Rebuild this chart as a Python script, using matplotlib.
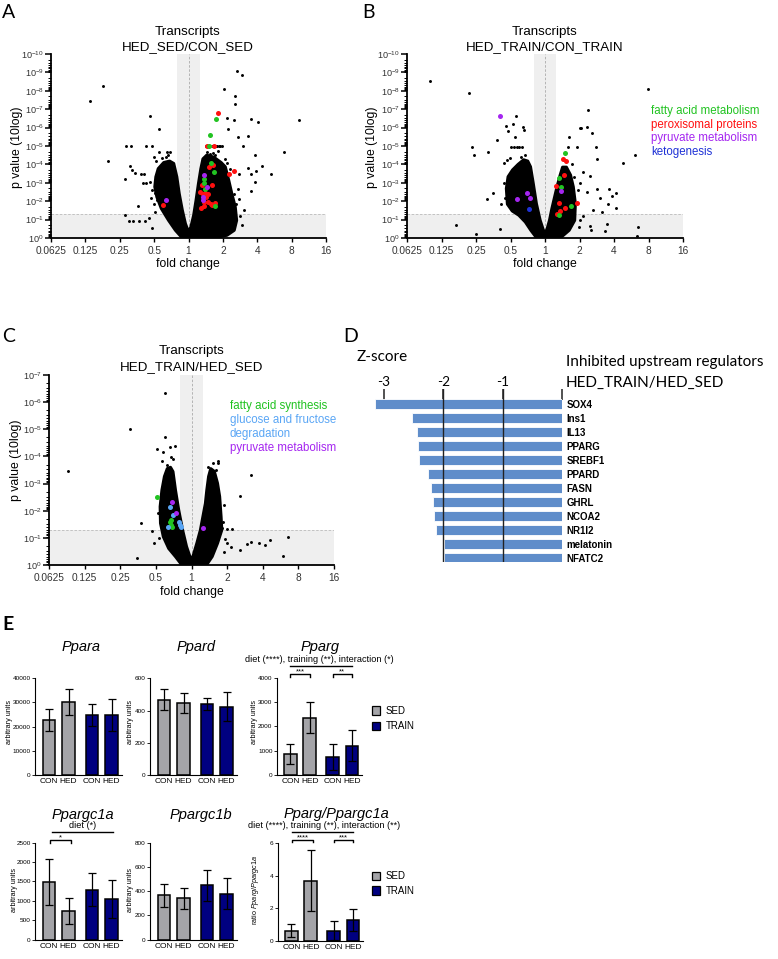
import numpy as np
import matplotlib
matplotlib.use('Agg')
import matplotlib.pyplot as plt
from matplotlib.ticker import LogLocator, NullLocator, FixedLocator, NullFormatter
from matplotlib.patches import Rectangle

plt.rcParams['font.family'] = ['Liberation Sans', 'DejaVu Sans']
plt.rcParams['mathtext.fontset'] = 'custom'
plt.rcParams['mathtext.rm'] = 'Liberation Sans'
plt.rcParams['mathtext.it'] = 'Liberation Sans:italic'

W, H = 778, 959
fig = plt.figure(figsize=(W / 100, H / 100), dpi=100)

# ---------------- DATA ----------------
fold_ticks = [0.0625, 0.125, 0.25, 0.5, 1, 2, 4, 8, 16]
fold_tick_labels = ['0.0625', '0.125', '0.25', '0.5', '1', '2', '4', '8', '16']

# Panel A  (log2 fold change, -log10 p); dense cloud outline + individual points
a_env_l2 = [-0.18, -0.38, -0.58, -0.79, -0.92, -0.98, -0.95, -0.88, -0.72, -0.55, -0.43, -0.34, -0.27, -0.18, -0.09, 0.0,
            0.07, 0.15, 0.22, 0.29, 0.36, 0.42, 0.53, 0.73, 0.95, 1.07, 1.17, 1.26, 1.36, 1.40, 1.33, 1.12, 0.73]
a_env_m = [0, 0.42, 0.96, 1.60, 2.23, 2.78, 3.32, 3.77, 4.10, 4.18, 4.05, 3.32, 2.41, 1.51, 0.78, 0.33,
           0.60, 1.23, 2.05, 2.96, 3.77, 4.30, 4.50, 4.40, 4.10, 3.87, 3.14, 2.41, 1.69, 0.96, 0.42, 0.15, 0]
a_l2 = [-2.86, -2.49, -2.35, -1.84, -1.82, -1.68, -1.25, -1.06, -1.13, -0.86, -1.70, -1.63, -1.56, -1.39, -1.29, -1.33,
        -1.23, -1.12, -1.00, -0.94, -0.86, -0.63, -0.53, -1.84, -1.72, -1.62, -1.45, -1.26, -1.47, -1.07, -1.01, -0.97,
        -0.92, -0.73, -0.82, -1.05, -1.10, -0.98, -1.15, -0.78, -0.66, -0.60,
        1.40, 1.55, 1.04, 1.34, 1.35, 1.13, 1.31, 1.82, 2.01, 3.20, 1.45, 1.72, 1.16, 1.59, 1.92, 2.78, 2.13, 1.72,
        1.82, 1.97, 2.40, 1.92, 1.81, 1.39, 1.43, 0.92, 0.81, 1.12, 1.21, 1.47, 1.31,
        0.51, 0.59, 0.67, 0.75, 0.83, 0.90, 0.97, 0.55, 0.70, 0.85, 0.62, 0.78, 1.05, 1.50, 1.55, 1.48, 1.60]
a_m = [7.46, 8.28, 4.21, 3.19, 5.01, 5.01, 5.01, 5.01, 6.62, 5.95, 3.92, 3.72, 3.54, 3.50, 3.50, 3.01,
       3.01, 3.05, 4.41, 4.16, 4.68, 4.68, 4.68, 1.27, 0.93, 0.93, 0.93, 0.93, 1.72, 0.54, 1.87, 2.47,
       2.05, 3.77, 3.14, 2.60, 2.20, 1.40, 1.10, 4.35, 4.40, 4.50,
       9.07, 8.84, 8.11, 7.71, 7.28, 6.53, 6.41, 6.46, 6.30, 6.39, 5.50, 5.57, 5.95, 5.01, 4.50, 4.68, 3.92, 3.83,
       3.50, 3.63, 3.48, 3.05, 2.54, 1.87, 2.69, 5.01, 5.01, 4.05, 3.77, 3.50, 2.41,
       5.01, 5.01, 5.01, 5.01, 5.01, 5.01, 5.01, 4.70, 4.60, 4.75, 4.55, 4.50, 4.30, 1.20, 0.70, 2.10, 1.50]
a_red_l2 = [0.87, 0.53, 0.73, 0.70, 0.61, 1.19, 1.31, 0.39, 0.42, 0.34, 0.48, 0.51, 0.58, 0.68, 0.46, 0.44, 0.36,
            0.58, 0.65, 0.78, -0.73, 0.69]
a_red_m = [6.82, 5.01, 5.01, 3.99, 3.87, 3.50, 3.63, 2.87, 2.41, 2.50, 2.45, 2.23, 2.41, 2.87, 1.96, 1.72, 1.62,
           1.96, 1.83, 1.91, 1.81, 1.81]
a_green_l2 = [0.80, 0.63, 0.61, 0.65, 0.73, 0.46, 0.44, 0.48, 0.78]
a_green_m = [6.46, 5.59, 5.01, 4.08, 3.59, 3.19, 2.99, 2.69, 1.74]
a_purple_l2 = [0.46, 0.53, 0.42, 0.42, -0.65]
a_purple_m = [3.41, 2.78, 2.23, 2.09, 2.09]

# Panel B
b_env_l2 = [-0.24, -0.41, -0.57, -0.76, -0.95, -1.09, -1.12, -1.07, -0.94, -0.78, -0.62, -0.50, -0.42, -0.34, -0.25,
            -0.14, -0.03, 0.05, 0.13, 0.20, 0.28, 0.36, 0.44, 0.51, 0.62, 0.74, 0.82, 0.88, 0.86, 0.70, 0.44]
b_env_m = [0, 0.42, 0.87, 1.24, 1.47, 1.84, 2.69, 3.33, 3.70, 4.00, 4.25, 4.18, 3.87, 2.96, 1.87,
           0.96, 0.33, 0.42, 0.96, 1.60, 2.24, 2.87, 3.42, 3.85, 3.85, 3.42, 2.78, 1.87, 0.96, 0.42, 0]
b_l2 = [-3.34, -2.20, -2.13, -2.06, -1.65, -1.40, -1.52, -1.69, -2.57, -2.00, -1.31, -1.28, -1.13, -1.07, -0.94,
        -0.87, -0.84, -0.99, -0.90, -0.82, -0.75, -0.67, -0.63, -0.60, -1.18, -1.09, -1.01, -1.02, -1.15, -1.20,
        -0.58, -0.70,
        1.24, 1.23, 1.00, 1.05, 1.36, 0.71, 0.66, 0.92, 1.48, 1.52, 1.29, 1.11, 0.79, 0.83, 1.22, 1.38, 1.52, 1.60,
        1.64, 1.86, 1.84, 1.94, 2.06, 2.07, 1.81, 1.75, 1.31, 1.33, 1.00, 2.27, 2.60, 2.71, 2.66, 2.98,
        0.95, 1.02, 1.10, 0.60, 0.98]
b_m = [8.55, 7.89, 4.96, 4.49, 4.65, 5.33, 2.47, 2.11, 0.69, 0.24, 0.51, 1.84, 6.11, 5.84, 6.18,
       5.47, 6.65, 4.96, 4.96, 4.96, 4.96, 4.96, 6.02, 5.87, 4.05, 4.24, 4.33, 1.69, 2.20, 3.00,
       4.50, 4.40,
       6.96, 6.05, 6.00, 5.96, 5.69, 5.47, 4.96, 4.96, 4.96, 4.29, 3.38, 3.60, 4.00, 3.33, 2.51, 1.53, 2.64, 2.18,
       1.40, 2.65, 1.87, 2.27, 2.42, 1.65, 0.78, 0.36, 0.67, 0.42, 0.96, 4.05, 4.49, 0.60, 0.11, 8.11,
       2.60, 3.00, 1.20, 4.20, 0.60]
b_purple_l2 = [-1.29, -0.52, -0.43, -0.81, 0.45]
b_purple_m = [6.65, 2.47, 2.20, 2.13, 2.56]
b_blue_l2 = [-0.46]
b_blue_m = [1.55]
b_green_l2 = [0.57, 0.42, 0.47, 0.76, 0.40]
b_green_m = [4.64, 3.27, 2.75, 1.73, 1.27]
b_red_l2 = [0.53, 0.61, 0.56, 0.33, 0.41, 0.94, 0.57, 0.43, 0.36]
b_red_m = [4.27, 4.16, 3.44, 2.85, 1.91, 1.91, 1.65, 1.47, 1.31]

# Panel C
c_env_l2 = [-0.27, -0.45, -0.64, -0.79, -0.87, -0.88, -0.83, -0.76, -0.68, -0.59, -0.52, -0.45, -0.36, -0.25, -0.14,
            -0.03, 0.04, 0.15, 0.25, 0.32, 0.39, 0.43, 0.48, 0.54, 0.64, 0.73, 0.79, 0.83, 0.85, 0.73, 0.58, 0.42]
c_env_m = [0, 0.31, 0.61, 1.04, 1.54, 2.15, 2.76, 3.26, 3.55, 3.60, 3.44, 2.76, 2.03, 1.29, 0.68,
           0.25, 0.31, 0.80, 1.29, 1.78, 2.27, 2.76, 3.26, 3.55, 3.45, 3.01, 2.52, 1.78, 1.29, 0.80, 0.31, 0]
c_l2 = [-3.47, -1.74, -0.75, -0.73, -0.96, -0.80, -0.61, -0.45, -0.57, -0.52, -0.83, -1.43, -1.52, -1.11, -0.71,
        -0.85, -0.87, -0.85, -0.61, -1.05, -0.92, -0.95, -0.70,
        0.47, 0.74, 0.74, 1.66, 1.37, 0.87, 1.01, 1.15, 0.95, 1.00, 1.11, 0.91, 1.37, 1.55, 1.67, 1.90, 2.07, 2.21,
        2.71, 2.57, 0.70, 0.88, 0.90, 0.60]
c_m = [3.46, 5.00, 6.33, 4.73, 4.29, 4.15, 4.34, 4.40, 3.99, 3.89, 3.85, 1.54, 0.25, 1.27, 2.76,
       2.27, 2.03, 1.78, 1.54, 0.80, 1.00, 1.90, 3.70,
       3.62, 3.85, 3.75, 3.32, 2.56, 1.35, 1.31, 1.31, 0.96, 0.80, 0.68, 0.49, 0.54, 0.77, 0.86, 0.82, 0.72, 0.93,
       1.02, 0.34, 3.50, 1.60, 2.20, 3.75]
c_green_l2 = [-0.96, -0.61, -0.58, -0.54, -0.57]
c_green_m = [2.49, 1.57, 1.47, 1.39, 1.66]
c_blue_l2 = [-0.59, -0.51, -0.66, -0.36, -0.33, -0.30]
c_blue_m = [2.15, 1.83, 1.41, 1.57, 1.47, 1.41]
c_purple_l2 = [-0.55, -0.43, 0.32]
c_purple_m = [2.31, 1.90, 1.35]

# Panel D
regulators = ['SOX4', 'Ins1', 'IL13', 'PPARG', 'SREBF1', 'PPARD', 'FASN', 'GHRL', 'NCOA2', 'NR1I2',
              'melatonin', 'NFATC2']
zscores = [-3.15, -2.53, -2.45, -2.43, -2.41, -2.26, -2.20, -2.18, -2.15, -2.13, -1.98, -1.98]

# Panel E
groups = ['CON', 'HED', 'CON', 'HED']
ppara_mean = [22700, 30100, 24800, 24800]
ppara_lo = [18400, 24800, 20400, 18400]
ppara_hi = [27100, 35500, 29300, 31600]
ppard_mean = [468, 444, 438, 425]
ppard_lo = [403, 386, 403, 335]
ppard_hi = [535, 506, 478, 515]
pparg_mean = [850, 2330, 730, 1190]
pparg_lo = [440, 1730, 205, 590]
pparg_hi = [1290, 2990, 1270, 1840]
pgc1a_mean = [1480, 730, 1280, 1040]
pgc1a_lo = [880, 410, 860, 560]
pgc1a_hi = [2070, 1070, 1710, 1530]
pgc1b_mean = [365, 340, 448, 380]
pgc1b_lo = [270, 255, 322, 252]
pgc1b_hi = [462, 428, 572, 512]
ratio_mean = [0.62, 3.70, 0.60, 1.30]
ratio_lo = [0.25, 1.82, 0.02, 0.62]
ratio_hi = [1.05, 5.58, 1.20, 1.97]

# ---------------- helpers ----------------
def fx(x):
    return x / W


def fy(y):
    return 1 - y / H


def add_ax(l, t, r, b):
    return fig.add_axes([l / W, 1 - b / H, (r - l) / W, (b - t) / H])


def ftext(x, y, s, **kw):
    kw.setdefault('va', 'center')
    kw.setdefault('ha', 'center')
    return fig.text(fx(x), fy(y), s, **kw)


GREEN = '#22c322'
RED = '#ff1010'
PURPLE = '#a526f0'
BLUE = '#1f32d6'
LBLUE = '#5aa6f5'
TICKC = '#333333'


def volcano(ax, ndec, env_l2, env_m, l2, m, colored):
    ax.set_xscale('log', base=2)
    ax.set_yscale('log')
    ax.set_xlim(0.0625, 16)
    ax.set_ylim(1, 10.0 ** (-ndec))
    ax.axvspan(0.8, 1.25, color='#efefef', zorder=0, lw=0)
    ax.axhspan(0.05, 1, color='#efefef', zorder=0, lw=0)
    ax.axvline(1, ls=(0, (3, 2)), color='#aaaaaa', lw=0.6, zorder=1)
    ax.axhline(0.05, ls=(0, (3, 2)), color='#bbbbbb', lw=0.6, zorder=1)
    ax.fill(2.0 ** np.array(env_l2), 10.0 ** (-np.array(env_m)), color='black', lw=2.2,
            joinstyle='round', zorder=2)
    ax.scatter(2.0 ** np.array(l2), 10.0 ** (-np.array(m)), s=4.5, c='black', lw=0, zorder=3)
    for cl2, cm, col in colored:
        ax.scatter(2.0 ** np.array(cl2), 10.0 ** (-np.array(cm)), s=13, c=col, lw=0, zorder=4)
    ax.xaxis.set_major_locator(FixedLocator(fold_ticks))
    ax.xaxis.set_minor_locator(NullLocator())
    ax.set_xticklabels(fold_tick_labels)
    majors = [10.0 ** (-k) for k in range(ndec + 1)]
    ax.yaxis.set_major_locator(FixedLocator(majors))
    ax.set_yticklabels(['$10^{0}$'] + ['$10^{-%d}$' % k for k in range(1, ndec + 1)])
    ax.yaxis.set_minor_locator(LogLocator(base=10, subs=np.arange(2, 10) * 1.0, numticks=30))
    ax.yaxis.set_minor_formatter(NullFormatter())
    for s in ['top', 'right']:
        ax.spines[s].set_visible(False)
    for s in ['left', 'bottom']:
        ax.spines[s].set_linewidth(1.3)
    ax.tick_params(axis='x', which='major', length=3, width=1, labelsize=7.3, labelcolor=TICKC, pad=3)
    ax.tick_params(axis='y', which='major', length=4, width=1.1, labelsize=6.6, labelcolor=TICKC, pad=1)
    ax.tick_params(axis='y', which='minor', length=2.5, width=0.7)
    ax.set_facecolor('none')


# ---------------- Panel A ----------------
axA = add_ax(51, 54, 326, 238)
volcano(axA, 10, a_env_l2, a_env_m, a_l2, a_m,
        [(a_red_l2, a_red_m, RED), (a_green_l2, a_green_m, GREEN), (a_purple_l2, a_purple_m, PURPLE)])
ftext(188, 32, 'Transcripts', fontsize=9.6)
ftext(188, 47, 'HED_SED/CON_SED', fontsize=9.6)
ftext(188, 264, 'fold change', fontsize=8.8)
ftext(17, 147, 'p value (10log)', fontsize=8.8, rotation=90)

# ---------------- Panel B ----------------
axB = add_ax(407, 54, 683, 238)
volcano(axB, 10, b_env_l2, b_env_m, b_l2, b_m,
        [(b_red_l2, b_red_m, RED), (b_green_l2, b_green_m, GREEN), (b_purple_l2, b_purple_m, PURPLE),
         (b_blue_l2, b_blue_m, BLUE)])
ftext(545, 32, 'Transcripts', fontsize=9.6)
ftext(545, 47, 'HED_TRAIN/CON_TRAIN', fontsize=9.6)
ftext(545, 264, 'fold change', fontsize=8.8)
ftext(372, 147, 'p value (10log)', fontsize=8.8, rotation=90)
for i, (lab, col) in enumerate([('fatty acid metabolism', GREEN), ('peroxisomal proteins', RED),
                                ('pyruvate metabolism', PURPLE), ('ketogenesis', BLUE)]):
    ftext(651, 111 + 13.6 * i, lab, color=col, fontsize=8.3, ha='left')

# ---------------- Panel C ----------------
axC = add_ax(49, 375, 334, 565)
volcano(axC, 7, c_env_l2, c_env_m, c_l2, c_m,
        [(c_green_l2, c_green_m, GREEN), (c_blue_l2, c_blue_m, LBLUE), (c_purple_l2, c_purple_m, PURPLE)])
ftext(192, 351, 'Transcripts', fontsize=9.6)
ftext(192, 367, 'HED_TRAIN/HED_SED', fontsize=9.6)
ftext(192, 592, 'fold change', fontsize=8.8)
ftext(16, 460, 'p value (10log)', fontsize=8.8, rotation=90)
for lab, col, yy in [('fatty acid synthesis', '#1fc21f', 406), ('glucose and fructose', LBLUE, 419.5),
                     ('degradation', LBLUE, 434), ('pyruvate metabolism', PURPLE, 448)]:
    ftext(230, yy, lab, color=col, fontsize=8.3, ha='left')

# ---------------- Panel D ----------------
axD = add_ax(371.9, 389, 562.3, 562)
ypos = np.arange(len(regulators))
axD.barh(ypos, zscores, height=0.74, color='#5f8dca', edgecolor='white', lw=0.6, zorder=2)
axD.set_xlim(-3.2, 0)
axD.set_ylim(11.28, -1.05)
for v in [-2, -1]:
    axD.axvline(v, color='#222222', lw=1.0, zorder=3)
for s in axD.spines.values():
    s.set_visible(False)
axD.xaxis.tick_top()
axD.set_xticks([-3, -2, -1, 0])
axD.set_xticklabels(['-3', '-2', '-1', ''], fontsize=9.8, family='Lato')
axD.tick_params(axis='x', direction='in', length=8, width=1.1, color='#222222', pad=1)
axD.yaxis.tick_right()
axD.set_yticks(ypos)
axD.set_yticklabels(regulators, fontsize=7, fontweight='bold')
axD.tick_params(axis='y', length=0, pad=3)
axD.set_facecolor('none')
ftext(357, 357, 'Z-score', fontsize=11, family='Lato', ha='left')
ftext(565.5, 361.7, 'Inhibited upstream regulators', fontsize=11, family='Lato', ha='left')
ftext(565.5, 383.3, 'HED_TRAIN/HED_SED', fontsize=11, family='Lato', ha='left')

# ---------------- Panel E ----------------
GRAY = '#a4a4a8'
NAVY = '#000080'
bar_pos = [0, 1, 2.2, 3.2]
bar_cols = [GRAY, GRAY, NAVY, NAVY]


def barpanel(l, t, r, b, mean, lo, hi, ymax, step):
    ax = add_ax(l, t, r, b)
    mean = np.array(mean, float)
    lo = np.array(lo, float)
    hi = np.array(hi, float)
    ax.bar(bar_pos, mean, width=0.65, color=bar_cols, edgecolor='black', lw=1.1, zorder=2)
    ax.errorbar(bar_pos, mean, yerr=[mean - lo, hi - mean], fmt='none', ecolor='black',
                elinewidth=0.9, capsize=3.2, capthick=0.9, zorder=3)
    ax.set_xlim(-0.72, 3.72)
    ax.set_ylim(0, ymax)
    ax.set_yticks(np.arange(0, ymax + step / 2, step))
    ax.tick_params(axis='y', labelsize=4.6, length=2, width=0.6, pad=1)
    ax.set_xticks(bar_pos)
    ax.set_xticklabels(groups, fontsize=6.0)
    ax.tick_params(axis='x', length=0, pad=2.5)
    for s in ['top', 'right']:
        ax.spines[s].set_visible(False)
    for s in ['left', 'bottom']:
        ax.spines[s].set_linewidth(0.8)
    ax.set_facecolor('none')
    return ax


def bracket(ax, x0, x1, yfrac, stars=None, drop=0.025):
    tr = ax.get_xaxis_transform()
    if stars is None:
        ax.plot([x0, x1], [yfrac, yfrac], color='black', lw=1.0, transform=tr, clip_on=False)
    else:
        ax.plot([x0, x0, x1, x1], [yfrac - drop, yfrac, yfrac, yfrac - drop], color='black', lw=1.0,
                transform=tr, clip_on=False)
        ax.text((x0 + x1) / 2, yfrac - 0.01, stars, transform=tr, ha='center', va='bottom', fontsize=5.5)


axE1 = barpanel(35, 678.3, 121.7, 775, ppara_mean, ppara_lo, ppara_hi, 40000, 10000)
axE2 = barpanel(150, 678.3, 236.7, 775, ppard_mean, ppard_lo, ppard_hi, 600, 200)
axE3 = barpanel(276.7, 677.7, 361.7, 775, pparg_mean, pparg_lo, pparg_hi, 4000, 1000)
axE4 = barpanel(35, 842.7, 121.7, 939.5, pgc1a_mean, pgc1a_lo, pgc1a_hi, 2500, 500)
axE5 = barpanel(150, 842.7, 236.7, 939.5, pgc1b_mean, pgc1b_lo, pgc1b_hi, 800, 200)
axE6 = barpanel(277.7, 843.3, 362.7, 940.7, ratio_mean, ratio_lo, ratio_hi, 6, 2)

bracket(axE3, 0, 3.2, 1.12)
bracket(axE3, 0, 1, 1.035, '***')
bracket(axE3, 2.2, 3.2, 1.035, '**')
bracket(axE4, 0.15, 3.3, 1.107)
bracket(axE4, 0.05, 1.1, 1.025, '*')
bracket(axE6, 0.05, 3.2, 1.113)
bracket(axE6, 0.05, 1.1, 1.034, '****')
bracket(axE6, 2.2, 3.2, 1.034, '***')

ftext(81, 646.7, 'Ppara', fontsize=10.5, style='italic')
ftext(196, 646.7, 'Ppard', fontsize=10.5, style='italic')
ftext(320, 646.7, 'Pparg', fontsize=10.5, style='italic')
ftext(319, 659, 'diet (****), training (**), interaction (*)', fontsize=6.6)
ftext(83, 815, 'Ppargc1a', fontsize=10.5, style='italic')
ftext(82.5, 826, 'diet (*)', fontsize=6.6)
ftext(200.5, 815, 'Ppargc1b', fontsize=10.5, style='italic')
ftext(336, 814, 'Pparg/Ppargc1a', fontsize=10.5, style='italic')
ftext(324, 825, 'diet (****), training (**), interaction (**)', fontsize=6.6)

ftext(9.5, 722, 'arbitrary units', fontsize=5.2, rotation=90)
ftext(131, 722, 'arbitrary units', fontsize=5.2, rotation=90)
ftext(254, 722, 'arbitrary units', fontsize=5.2, rotation=90)
ftext(14, 890, 'arbitrary units', fontsize=5.2, rotation=90)
ftext(131, 890, 'arbitrary units', fontsize=5.2, rotation=90)
ftext(256, 890, 'ratio $\\mathit{Pparg/Ppargc1a}$', fontsize=5.2, rotation=90)

for y0 in [(710.7, 726), (876, 890.7)]:
    for yy, col, lab in [(y0[0], GRAY, 'SED'), (y0[1], NAVY, 'TRAIN')]:
        fig.add_artist(Rectangle((fx(371.7), fy(yy + 4.3)), 8.6 / W, 8.6 / H, facecolor=col,
                                 edgecolor='black', lw=0.9, transform=fig.transFigure))
        ftext(385.7, yy, lab, fontsize=7, ha='left')

# ---------------- panel letters ----------------
ftext(9, 12, 'A', fontsize=14, family='Lato')
ftext(368.5, 12, 'B', fontsize=14, family='Lato')
ftext(8.5, 337, 'C', fontsize=14, family='Lato')
ftext(350.5, 337, 'D', fontsize=14, family='Lato')
ftext(8.5, 625, 'E', fontsize=14, family='Lato', fontweight='bold')

fig.savefig('out.png', dpi=100)
